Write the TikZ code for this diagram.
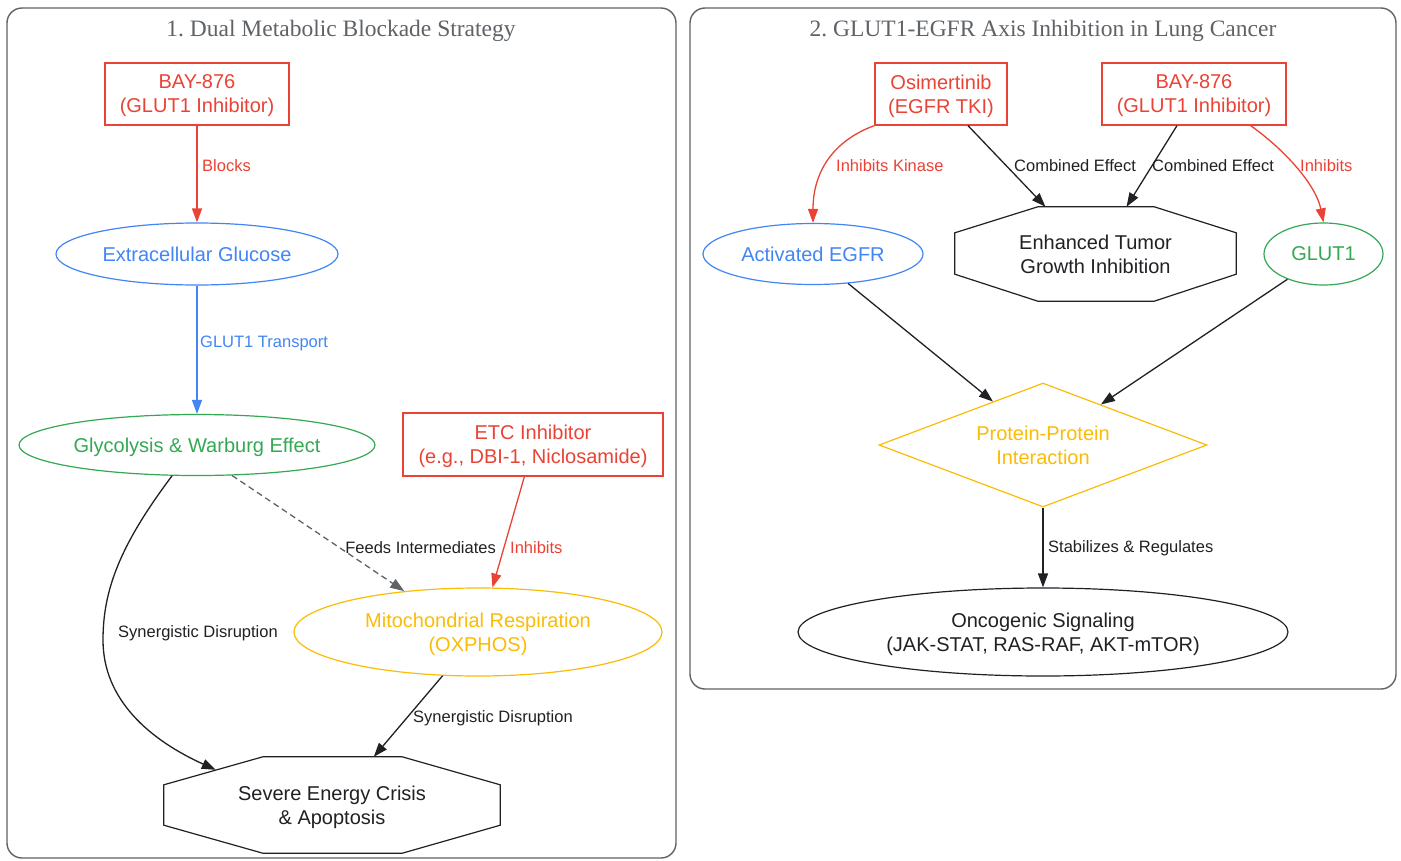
\documentclass[tikz,border=0pt]{standalone}
\usepackage{fontspec}
\setmainfont{Liberation Sans}
\newfontfamily\titlefont{Liberation Serif}
\usetikzlibrary{shapes.geometric,arrows.meta,calc}
\frenchspacing
\definecolor{cred}{HTML}{EA4335}
\definecolor{cblue}{HTML}{4285F4}
\definecolor{cgreen}{HTML}{34A853}
\definecolor{cyellow}{HTML}{FBBC05}
\definecolor{cdark}{HTML}{202124}
\definecolor{cgrey}{HTML}{5F6368}
\newcommand{\nodefont}{\fontsize{20}{24}\selectfont}
\newcommand{\lblfont}{\fontsize{16.5}{20}\selectfont}
\newcommand{\ttlfont}{\titlefont\fontsize{23.5}{27}\selectfont}
\begin{document}
\begin{tikzpicture}[x=1pt,y=-1pt,
  panel/.style={draw=cgrey, line width=1.4pt, rounded corners=15pt},
  ptitle/.style={font=\ttlfont, text=cgrey, inner sep=0},
  box/.style={draw=cred, text=cred, line width=1.2pt, minimum height=62, inner sep=0, align=center, font=\nodefont, text depth=0pt},
  ell/.style={ellipse, line width=1.2pt, inner sep=0, align=center, font=\nodefont, text depth=0pt},
  oct/.style={draw=none, inner sep=0, align=center, font=\nodefont, text=cdark, text depth=0pt},
  octline/.style={draw=cdark, line width=1.2pt},
  lbl/.style={font=\lblfont, inner sep=1pt, text=cdark},
  arr/.style={line width=1.3pt, -{Triangle[length=14pt,width=10pt]}},
]
\useasboundingbox (0,0) rectangle (1401,860);
\fill[white] (0,0) rectangle (1401,860);

% panels
\draw[panel] (7,8) rectangle (676,858);
\draw[panel] (690,8) rectangle (1396,689);
\node[ptitle] (t1) at (341,31) {1. Dual Metabolic Blockade Strategy};
\node[ptitle] (t2) at (1043,31) {2. GLUT1-EGFR Axis Inhibition in Lung Cancer};

% ---------- panel 1 nodes
\node[box, minimum width=184] (bay1) at (197,94) {BAY-876\\(GLUT1 Inhibitor)};
\node[ell, draw=cblue, text=cblue, minimum width=282, minimum height=62] (glucose) at (197,254) {Extracellular Glucose};
\node[ell, draw=cgreen, text=cgreen, minimum width=356, minimum height=61] (glyco) at (197,445) {Glycolysis \& Warburg Effect};
\node[box, minimum width=260, minimum height=63] (etc) at (533,444.5) {ETC Inhibitor\\(e.g., DBI-1, Niclosamide)};
\node[ell, draw=cyellow, text=cyellow, minimum width=368, minimum height=88] (mito) at (478,632) {Mitochondrial Respiration\\(OXPHOS)};
\node[oct, minimum width=336, minimum height=96] (crisis) at (332,805) {Severe Energy Crisis\\\& Apoptosis};
\draw[octline] ($(crisis.north west)+(99,0)$) -- ($(crisis.north east)+(-98,0)$) -- ($(crisis.north east)+(0,28)$) -- ($(crisis.south east)+(0,-28)$) -- ($(crisis.south east)+(-98,0)$) -- ($(crisis.south west)+(99,0)$) -- ($(crisis.south west)+(0,-28)$) -- ($(crisis.north west)+(0,28)$) -- cycle;
\coordinate (crisisA) at ($(crisis.north west)+(52,13)$);
\coordinate (crisisB) at ($(crisis.north west)+(210,0)$);

% ---------- panel 1 edges
\draw[arr, draw=cred] (bay1.south) -- (glucose.north);
\node[lbl, text=cred, anchor=west] (l1) at (201,166) {Blocks};
\draw[arr, draw=cblue] (glucose.south) -- (glyco.north);
\node[lbl, text=cblue, anchor=west] (l2) at (199,343) {GLUT1 Transport};
\draw[arr, draw=cgrey, dash pattern=on 6pt off 4pt] (glyco.-41.4) -- (mito.151.7);
\node[lbl, anchor=east] (l3) at (497,548) {Feeds Intermediates};
\draw[arr, draw=cred] (etc.-105.9) -- (mito.72.3);
\node[lbl, text=cred, anchor=west] (l4) at (509,548) {Inhibits};
\draw[arr, draw=cdark] (glyco.-129.8) .. controls (120,545) and (103,590) .. (103,640) .. controls (103,700) and (150,740) .. (crisisA);
\node[lbl] (l5) at (198,633) {Synergistic Disruption};
\draw[arr, draw=cdark] (mito.-129.3) -- (crisisB);
\node[lbl, anchor=west] (l6) at (412,718) {Synergistic Disruption};

% ---------- panel 2 nodes
\node[box, minimum width=132] (osim) at (941,94) {Osimertinib\\(EGFR TKI)};
\node[box, minimum width=184] (bay2) at (1194,94) {BAY-876\\(GLUT1 Inhibitor)};
\node[ell, draw=cblue, text=cblue, minimum width=220, minimum height=61] (egfr) at (813,254) {Activated EGFR};
\node[oct, minimum width=281, minimum height=94] (tumor) at (1095.5,254) {Enhanced Tumor\\Growth Inhibition};
\draw[octline] ($(tumor.north west)+(83,0)$) -- ($(tumor.north east)+(-82,0)$) -- ($(tumor.north east)+(0,26)$) -- ($(tumor.south east)+(0,-27)$) -- ($(tumor.south east)+(-82,0)$) -- ($(tumor.south west)+(83,0)$) -- ($(tumor.south west)+(0,-27)$) -- ($(tumor.north west)+(0,26)$) -- cycle;
\node[ell, draw=cgreen, text=cgreen, minimum width=119, minimum height=62] (glut1) at (1323.5,254) {GLUT1};
\node[diamond, shape aspect=2.65, draw=cyellow, text=cyellow, line width=1.2pt, inner sep=0, minimum width=328, minimum height=124, align=center, font=\nodefont, text depth=0pt] (ppi) at (1043,445) {Protein-Protein\\Interaction};
\node[ell, draw=cdark, text=cdark, minimum width=490, minimum height=88] (onco) at (1043,632) {Oncogenic Signaling\\(JAK-STAT, RAS-RAF, AKT-mTOR)};

% ---------- panel 2 edges
\draw[arr, draw=cred] (osim.south west) .. controls (835,140) and (813,170) .. (egfr.north);
\node[lbl, text=cred, anchor=west] (l7) at (835,166) {Inhibits Kinase};
\draw[arr, draw=cdark] ($(osim.south)+(27,0)$) -- ($(tumor.north)+(-50,0)$);
\node[lbl, anchor=west] (l8) at (1013,166) {Combined Effect};
\draw[arr, draw=cdark] ($(bay2.south)+(-17,0)$) -- ($(tumor.north)+(31,0)$);
\node[lbl, anchor=west] (l9) at (1151,166) {Combined Effect};
\draw[arr, draw=cred] ($(bay2.south east)+(-36,0)$) .. controls (1285,150) and (1316,185) .. (glut1.north);
\node[lbl, text=cred, anchor=west] (l10) at (1299,166) {Inhibits};
\draw[arr, draw=cdark] (egfr.-40.5) -- (ppi.139.9);
\draw[arr, draw=cdark] (glut1.-145.6) -- (ppi.35.3);
\draw[arr, draw=cdark] (ppi.south) -- (onco.north);
\node[lbl, anchor=west] (l11) at (1047,548) {Stabilizes \& Regulates};
\end{tikzpicture}
\end{document}
